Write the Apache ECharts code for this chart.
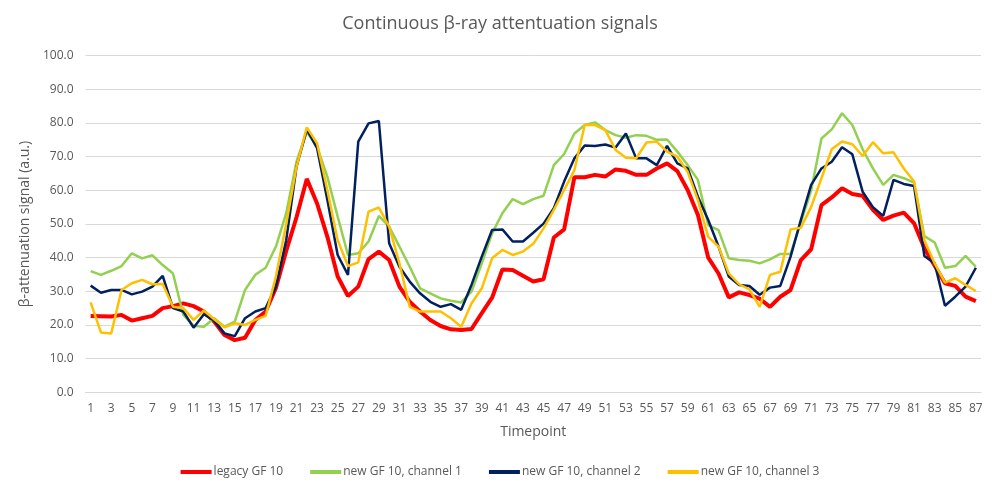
<!DOCTYPE html>
<html>
<head>
<meta charset="utf-8">
<title>Continuous β-ray attentuation signals</title>
<script src="https://cdn.jsdelivr.net/npm/echarts@6/dist/echarts.min.js"></script>
<style>
	html, body { margin: 0; padding: 0; background: #fff; }
	#chart { width: 1000px; height: 494px; }
</style>
</head>
<body>
<div id="chart"></div>
<script>
// timepoints 1..87
var timepoints = [];
for (var i = 1; i <= 87; i++) { timepoints.push(String(i)); }

var seriesNames = ["legacy GF 10", "new GF 10, channel 1", "new GF 10, channel 2", "new GF 10, channel 3"];

// values
var legacy = [
	22.7, 22.6, 22.5, 23.0, 21.3, 22.0, 22.7, 25.0, 25.6, 26.4,
	25.6, 24.0, 21.0, 17.0, 15.5, 16.2, 21.5, 24.0, 31.0, 42.0,
	52.0, 63.4, 56.1, 46.2, 34.4, 28.6, 31.4, 39.6, 41.8, 39.3,
	31.4, 26.9, 24.0, 21.5, 19.7, 18.7, 18.5, 18.8, 23.5, 28.1,
	36.5, 36.3, 34.6, 32.9, 33.6, 46.0, 48.4, 63.9, 63.9, 64.6,
	64.1, 66.2, 65.8, 64.6, 64.6, 66.5, 68.0, 65.7, 60.1, 52.7,
	40.0, 35.3, 28.2, 29.7, 28.9, 27.8, 25.4, 28.4, 30.4, 39.3,
	42.5, 55.6, 57.9, 60.6, 58.9, 58.4, 54.2, 51.2, 52.5, 53.4,
	50.2, 42.8, 37.6, 32.4, 31.6, 28.4, 27.1
];
var channel1 = [
	36.0, 34.9, 36.1, 37.5, 41.3, 39.8, 40.7, 37.8, 35.3, 23.0,
	19.8, 19.5, 22.0, 19.5, 21.0, 30.4, 34.9, 37.0, 43.3, 53.2,
	68.5, 77.4, 73.0, 64.0, 52.2, 40.8, 41.3, 44.8, 52.4, 49.2,
	43.3, 37.3, 30.9, 29.4, 27.9, 27.2, 26.7, 29.9, 38.3, 47.2,
	53.2, 57.4, 55.9, 57.4, 58.4, 67.5, 70.8, 76.9, 79.4, 80.2,
	77.9, 76.4, 75.6, 76.4, 76.2, 75.0, 75.1, 71.5, 67.5, 63.1,
	49.7, 48.2, 39.8, 39.3, 39.1, 38.3, 39.5, 41.1, 41.1, 50.5,
	60.0, 75.4, 78.1, 82.9, 79.4, 72.2, 66.5, 61.6, 64.6, 63.6,
	62.3, 46.4, 44.5, 37.0, 37.5, 40.5, 37.3
];
var channel2 = [
	31.7, 29.6, 30.4, 30.4, 29.1, 29.9, 31.4, 34.6, 25.0, 24.0,
	19.2, 23.2, 21.3, 17.5, 16.7, 22.0, 24.0, 25.0, 31.4, 45.2,
	67.0, 78.0, 72.5, 57.1, 40.8, 34.9, 74.5, 79.9, 80.6, 44.3,
	37.3, 32.9, 29.4, 26.9, 25.4, 26.2, 24.5, 31.9, 40.3, 48.2,
	48.4, 44.8, 44.8, 47.4, 50.1, 54.7, 62.6, 69.5, 73.3, 73.2,
	73.6, 72.7, 76.9, 69.5, 69.5, 67.5, 73.2, 68.0, 66.5, 58.1,
	51.2, 43.3, 34.4, 31.9, 31.6, 29.0, 31.1, 31.6, 40.3, 51.2,
	61.6, 66.5, 68.5, 72.8, 70.7, 59.6, 55.0, 52.4, 63.1, 61.9,
	61.3, 40.5, 38.3, 25.7, 28.4, 31.4, 37.0
];
var channel3 = [
	26.7, 17.8, 17.5, 30.4, 32.4, 33.4, 32.1, 32.2, 25.4, 25.0,
	21.5, 24.3, 21.7, 19.3, 20.5, 20.0, 21.5, 22.7, 34.4, 50.0,
	67.0, 78.7, 74.0, 60.0, 45.2, 37.5, 38.6, 53.7, 54.9, 49.2,
	38.3, 25.4, 24.0, 24.0, 24.0, 22.0, 19.5, 26.4, 30.9, 39.8,
	42.3, 40.8, 41.8, 44.1, 48.7, 54.2, 60.1, 66.0, 79.4, 79.4,
	77.9, 72.0, 69.7, 69.5, 74.2, 74.5, 71.5, 70.0, 65.5, 57.1,
	46.2, 43.3, 35.3, 32.1, 30.6, 25.4, 34.9, 35.8, 48.4, 48.9,
	55.1, 63.6, 72.2, 74.5, 73.7, 70.2, 74.3, 71.0, 71.3, 66.5,
	62.6, 45.2, 38.3, 32.6, 33.9, 31.9, 30.1
];

var yTicks = { min: 0, max: 100, interval: 10 };

(function() {
	var textColor = "#595959";
	var fontFamily = "'Open Sans', 'Liberation Sans', sans-serif";

	var lineSeries = function(name, data, color, width) {
		return {
			name: name,
			type: "line",
			data: data,
			symbol: "none",
			smooth: false,
			lineStyle: { color: color, width: width },
			itemStyle: { color: color }
		};
	};

	var myChart = echarts.init(document.getElementById("chart"), null, { renderer: "canvas" });
	var option = {
		animation: false,
		backgroundColor: "#ffffff",
		textStyle: { fontFamily: fontFamily },
		title: {
			text: "Continuous β-ray attentuation signals",
			left: "center",
			top: 10,
			textStyle: { color: textColor, fontSize: 18, fontWeight: "normal", fontFamily: fontFamily }
		},
		legend: {
			bottom: 11,
			left: "center",
			itemWidth: 31,
			itemHeight: 4,
			itemGap: 27,
			icon: "rect",
			textStyle: { color: textColor, fontSize: 12, fontFamily: fontFamily, padding: [0, 0, 0, -3] },
			data: seriesNames
		},
		grid: {
			left: 85.5,
			right: 19,
			top: 55.7,
			bottom: 101.7,
			containLabel: false
		},
		xAxis: {
			type: "category",
			data: timepoints,
			boundaryGap: true,
			name: "Timepoint",
			nameLocation: "middle",
			nameGap: 33,
			nameTextStyle: { color: textColor, fontSize: 14, fontFamily: fontFamily },
			axisLine: { show: true, lineStyle: { color: "#d9d9d9", width: 1 } },
			axisTick: { show: false },
			axisLabel: { interval: 1, color: textColor, fontSize: 12, margin: 10, fontFamily: fontFamily },
			splitLine: { show: false }
		},
		yAxis: {
			type: "value",
			min: yTicks.min,
			max: yTicks.max,
			interval: yTicks.interval,
			name: "β-attenuation signal (a.u.)",
			nameLocation: "middle",
			nameGap: 38,
			nameTextStyle: { color: textColor, fontSize: 14, fontFamily: fontFamily },
			axisLine: { show: false },
			axisTick: { show: false },
			axisLabel: {
				color: textColor,
				fontSize: 12,
				margin: 12,
				fontFamily: fontFamily,
				formatter: function(v) { return v.toFixed(1); }
			},
			splitLine: { show: true, lineStyle: { color: "#d9d9d9", width: 1 } }
		},
		series: [
			lineSeries(seriesNames[0], legacy, "#ff0000", 4),
			lineSeries(seriesNames[1], channel1, "#92d050", 2.5),
			lineSeries(seriesNames[2], channel2, "#002060", 2.5),
			lineSeries(seriesNames[3], channel3, "#ffc000", 2.5)
		]
	};
	myChart.setOption(option);
})();
</script>
</body>
</html>
